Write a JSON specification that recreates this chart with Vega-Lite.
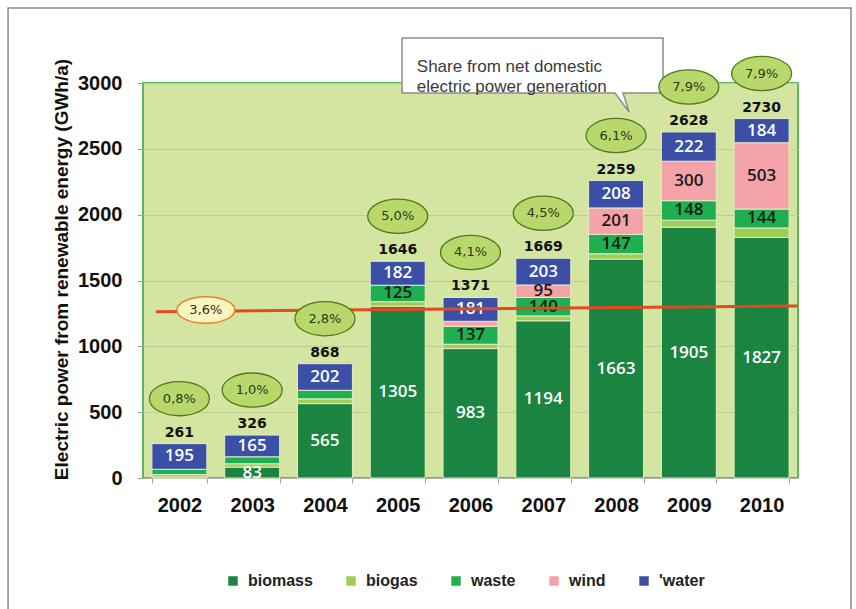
{
  "$schema": "https://vega.github.io/schema/vega-lite/v6.json",
  "width": 655,
  "height": 395,
  "autosize": {"type": "none"},
  "padding": {"left": 143, "top": 83, "right": 58, "bottom": 131},
  "background": "#ffffff",
  "config": {
    "locale": {"number": {"decimal": ",", "thousands": ".", "grouping": [3], "currency": ["", " €"]}},
    "view": {"fill": "#d3e5a0", "stroke": "#5cb85c", "strokeWidth": 2}
  },
  "datasets": {
    "generation": [
      {"year": "2002", "source": "biomass", "value": 8},
      {"year": "2002", "source": "biogas", "value": 18},
      {"year": "2002", "source": "waste", "value": 40},
      {"year": "2002", "source": "water", "value": 195},
      {"year": "2003", "source": "biomass", "value": 83},
      {"year": "2003", "source": "biogas", "value": 25},
      {"year": "2003", "source": "waste", "value": 53},
      {"year": "2003", "source": "water", "value": 165},
      {"year": "2004", "source": "biomass", "value": 565},
      {"year": "2004", "source": "biogas", "value": 36},
      {"year": "2004", "source": "waste", "value": 65},
      {"year": "2004", "source": "water", "value": 202},
      {"year": "2005", "source": "biomass", "value": 1305},
      {"year": "2005", "source": "biogas", "value": 34},
      {"year": "2005", "source": "waste", "value": 125},
      {"year": "2005", "source": "water", "value": 182},
      {"year": "2006", "source": "biomass", "value": 983},
      {"year": "2006", "source": "biogas", "value": 33},
      {"year": "2006", "source": "waste", "value": 137},
      {"year": "2006", "source": "wind", "value": 37},
      {"year": "2006", "source": "water", "value": 181},
      {"year": "2007", "source": "biomass", "value": 1194},
      {"year": "2007", "source": "biogas", "value": 37},
      {"year": "2007", "source": "waste", "value": 140},
      {"year": "2007", "source": "wind", "value": 95},
      {"year": "2007", "source": "water", "value": 203},
      {"year": "2008", "source": "biomass", "value": 1663},
      {"year": "2008", "source": "biogas", "value": 40},
      {"year": "2008", "source": "waste", "value": 147},
      {"year": "2008", "source": "wind", "value": 201},
      {"year": "2008", "source": "water", "value": 208},
      {"year": "2009", "source": "biomass", "value": 1905},
      {"year": "2009", "source": "biogas", "value": 53},
      {"year": "2009", "source": "waste", "value": 148},
      {"year": "2009", "source": "wind", "value": 300},
      {"year": "2009", "source": "water", "value": 222},
      {"year": "2010", "source": "biomass", "value": 1827},
      {"year": "2010", "source": "biogas", "value": 72},
      {"year": "2010", "source": "waste", "value": 144},
      {"year": "2010", "source": "wind", "value": 503},
      {"year": "2010", "source": "water", "value": 184}
    ],
    "shares": [
      {"year": "2002", "share": 0.008},
      {"year": "2003", "share": 0.010},
      {"year": "2004", "share": 0.028},
      {"year": "2005", "share": 0.050},
      {"year": "2006", "share": 0.041},
      {"year": "2007", "share": 0.045},
      {"year": "2008", "share": 0.061},
      {"year": "2009", "share": 0.079},
      {"year": "2010", "share": 0.079}
    ]
  },
  "resolve": {"scale": {"x": "independent"}},
  "layer": [
    {
      "data": {"name": "generation"},
      "transform": [
        {"calculate": "indexof(['biomass','biogas','waste','wind','water'], datum.source)", "as": "layer_rank"}
      ],
      "encoding": {
        "x": {
          "field": "year",
          "type": "nominal",
          "scale": {"paddingInner": 0.245, "paddingOuter": 0.1225},
          "axis": {
            "title": null,
            "labelAngle": 0,
            "labelFont": "Liberation Sans",
            "labelFontSize": 20,
            "labelFontWeight": "bold",
            "labelColor": "#111111",
            "labelPadding": 12,
            "tickBand": "extent",
            "tickOffset": -9,
            "tickColor": "#a0a0a0",
            "tickSize": 5,
            "domainColor": "#b4b4b4",
            "grid": false
          }
        }
      },
      "layer": [
        {
          "mark": {"type": "bar", "stroke": "#e3edc6", "strokeWidth": 1},
          "encoding": {
            "y": {
              "field": "value",
              "type": "quantitative",
              "stack": "zero",
              "scale": {"domain": [0, 3000], "nice": false},
              "axis": {
                "title": "Electric power from renewable energy (GWh/a)",
                "titleFont": "Liberation Sans",
                "titleFontSize": 19,
                "titleFontWeight": "bold",
                "titleColor": "#111111",
                "titlePadding": 6,
                "titleY": 186,
                "values": [0, 500, 1000, 1500, 2000, 2500, 3000],
                "format": "d",
                "labelFont": "Liberation Sans",
                "labelFontSize": 20,
                "labelFontWeight": "bold",
                "labelColor": "#111111",
                "labelPadding": 15,
                "tickColor": "#a0a0a0",
                "tickSize": 6,
                "domain": false,
                "grid": true,
                "gridColor": "#bccf8e",
                "gridWidth": 1
              }
            },
            "order": {"field": "layer_rank", "type": "quantitative", "sort": "ascending"},
            "color": {
              "field": "source",
              "type": "nominal",
              "sort": ["biomass", "biogas", "waste", "wind", "water"],
              "scale": {
                "domain": ["biomass", "biogas", "waste", "wind", "water"],
                "range": ["#1b8441", "#9fcd55", "#1faf50", "#f4a3a8", "#3b4fa6"]
              },
              "legend": {
                "orient": "none",
                "legendX": 82,
                "legendY": 490,
                "direction": "horizontal",
                "columns": 5,
                "columnPadding": 30,
                "title": null,
                "symbolType": "square",
                "symbolSize": 90,
                "symbolStrokeWidth": 0,
                "labelFont": "Liberation Sans",
                "labelFontSize": 16,
                "labelFontWeight": "bold",
                "labelColor": "#222222",
                "labelOffset": 7,
                "labelExpr": "datum.label == 'water' ? \"'water\" : datum.label"
              }
            }
          }
        },
        {
          "transform": [
            {"stack": "value", "groupby": ["year"], "sort": [{"field": "layer_rank", "order": "ascending"}], "as": ["v0", "v1"]},
            {"calculate": "(datum.v0 + datum.v1) / 2", "as": "mid"},
            {"filter": "datum.source != 'biogas' && datum.value >= 80"}
          ],
          "mark": {"type": "text", "font": "Open Sans", "fontSize": 17, "fontWeight": 600, "baseline": "middle"},
          "encoding": {
            "y": {"field": "mid", "type": "quantitative", "scale": {"domain": [0, 3000], "nice": false}},
            "text": {"field": "value", "type": "quantitative", "format": "d"},
            "color": {
              "condition": {"test": "datum.source == 'biomass' || datum.source == 'water'", "value": "#ffffff"},
              "value": "#1a1a1a"
            }
          }
        },
        {
          "mark": {"type": "text", "font": "DejaVu Sans", "fontSize": 14, "fontWeight": "bold", "baseline": "middle", "dy": -11, "color": "#111111"},
          "encoding": {
            "y": {"aggregate": "sum", "field": "value", "type": "quantitative", "scale": {"domain": [0, 3000], "nice": false}},
            "text": {"aggregate": "sum", "field": "value", "type": "quantitative", "format": "d"}
          }
        }
      ]
    },
    {
      "data": {"values": [{}]},
      "layer": [
        {
          "mark": {"type": "rule", "color": "#e34a1f", "strokeWidth": 3},
          "encoding": {
            "x": {"datum": 0.02, "type": "quantitative", "scale": {"domain": [0, 1], "nice": false, "zero": false}, "axis": null},
            "x2": {"datum": 1},
            "y": {"datum": 1263, "type": "quantitative", "scale": {"domain": [0, 3000], "nice": false}},
            "y2": {"datum": 1306}
          }
        },
        {
          "mark": {
            "type": "point",
            "shape": "M -1 0 C -1 -0.254 -0.5523 -0.46 0 -0.46 C 0.5523 -0.46 1 -0.254 1 0 C 1 0.254 0.5523 0.46 0 0.46 C -0.5523 0.46 -1 0.254 -1 0 Z",
            "size": 3364,
            "filled": true,
            "fill": "#fdf5c0",
            "stroke": "#e8822a",
            "strokeWidth": 1.5,
            "opacity": 1
          },
          "encoding": {
            "x": {"datum": 0.096, "type": "quantitative", "scale": {"domain": [0, 1], "nice": false, "zero": false}, "axis": null},
            "y": {"datum": 1276, "type": "quantitative", "scale": {"domain": [0, 3000], "nice": false}}
          }
        },
        {
          "mark": {"type": "text", "font": "DejaVu Sans", "fontSize": 13, "color": "#3a2a10", "baseline": "middle"},
          "encoding": {
            "x": {"datum": 0.096, "type": "quantitative", "scale": {"domain": [0, 1], "nice": false, "zero": false}, "axis": null},
            "y": {"datum": 1276, "type": "quantitative", "scale": {"domain": [0, 3000], "nice": false}},
            "text": {"datum": 0.036, "format": ".1%"}
          }
        },
        {
          "mark": {
            "type": "point",
            "shape": "M -1.305 -0.275 L 1.305 -0.275 L 1.305 0.275 L 0.905 0.275 L 0.965 0.465 L 0.825 0.275 L -1.305 0.275 Z",
            "size": 40000,
            "filled": true,
            "fill": "#ffffff",
            "stroke": "#8c8c8c",
            "strokeWidth": 1.5,
            "opacity": 1
          },
          "encoding": {
            "x": {"datum": 0.5947, "type": "quantitative", "scale": {"domain": [0, 1], "nice": false, "zero": false}, "axis": null},
            "y": {"datum": 3133, "type": "quantitative", "scale": {"domain": [0, 3000], "nice": false}}
          }
        },
        {
          "mark": {"type": "text", "font": "Liberation Sans", "fontSize": 17, "color": "#3a3a3a", "align": "left", "baseline": "middle", "lineHeight": 20},
          "encoding": {
            "x": {"datum": 0.418, "type": "quantitative", "scale": {"domain": [0, 1], "nice": false, "zero": false}, "axis": null},
            "y": {"datum": 3125, "type": "quantitative", "scale": {"domain": [0, 3000], "nice": false}},
            "text": {"value": ["Share from net domestic", "electric power generation"]}
          }
        },
        {
          "mark": {"type": "rect", "filled": false, "stroke": "#8a8a8a", "strokeWidth": 1.5},
          "encoding": {
            "x": {"datum": -0.206, "type": "quantitative", "scale": {"domain": [0, 1], "nice": false, "zero": false}, "axis": null},
            "x2": {"datum": 1.081},
            "y": {"datum": 3570, "type": "quantitative", "scale": {"domain": [0, 3000], "nice": false}},
            "y2": {"datum": -1100}
          }
        }
      ]
    },
    {
      "data": {"name": "generation"},
      "transform": [
        {"aggregate": [{"op": "sum", "field": "value", "as": "total"}], "groupby": ["year"]},
        {"lookup": "year", "from": {"data": {"name": "shares"}, "key": "year", "fields": ["share"]}}
      ],
      "encoding": {
        "x": {"field": "year", "type": "nominal", "scale": {"paddingInner": 0.245, "paddingOuter": 0.1225}, "axis": null},
        "y": {"field": "total", "type": "quantitative", "scale": {"domain": [0, 3000], "nice": false}}
      },
      "layer": [
        {
          "mark": {
            "type": "point",
            "shape": "M -1 0 C -1 -0.3148 -0.5523 -0.57 0 -0.57 C 0.5523 -0.57 1 -0.3148 1 0 C 1 0.3148 0.5523 0.57 0 0.57 C -0.5523 0.57 -1 0.3148 -1 0 Z",
            "size": 3600,
            "filled": true,
            "fill": "#b8d86c",
            "stroke": "#4f7a1e",
            "strokeWidth": 1.3,
            "opacity": 1,
            "yOffset": -45
          }
        },
        {
          "mark": {"type": "text", "font": "DejaVu Sans", "fontSize": 13, "color": "#2b3a10", "baseline": "middle", "yOffset": -45},
          "encoding": {
            "text": {"field": "share", "type": "quantitative", "format": ".1%"}
          }
        }
      ]
    }
  ]
}
